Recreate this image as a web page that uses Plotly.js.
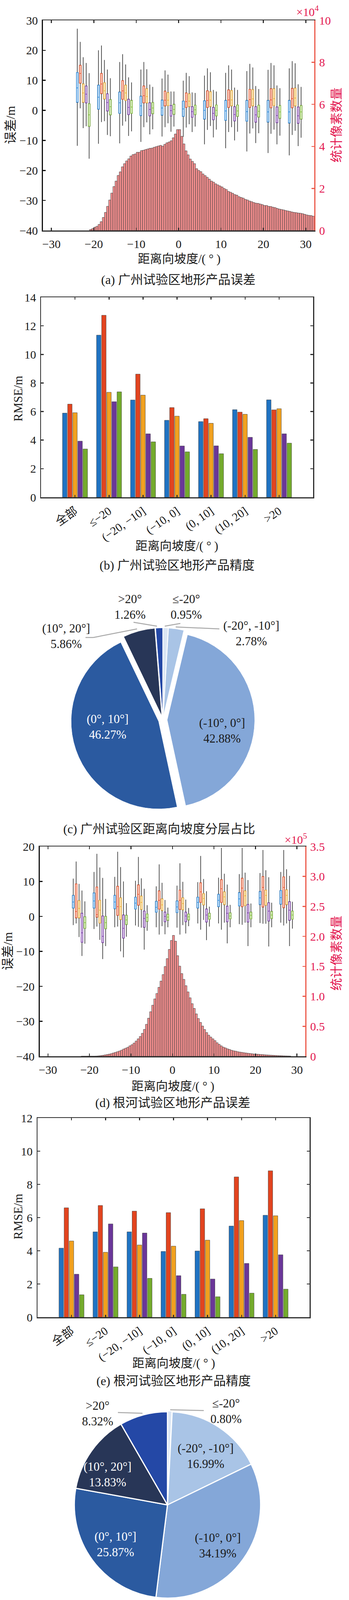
<!DOCTYPE html>
<html>
<head>
<meta charset="utf-8">
<script src="https://cdn.plot.ly/plotly-3.0.1.min.js"></script>
<style>
  html, body { margin: 0; padding: 0; background: #fff; }
  #fig { width: 894px; height: 4238px; }
</style>
</head>
<body>
<div id="fig"></div>
<script>
// ---- data ----
// box groups: centres of the 5 degree range-slope bins
const slopeBins = [-22.5, -17.5, -12.5, -7.5, -2.5, 2.5, 7.5, 12.5, 17.5, 22.5, 27.5];

// Guangzhou error boxes, rows = [lower whisker, q1, median, q3, upper whisker]
const gzBoxSRTM = [[-11.8,2.7,7.5,12.6,27.2],[-11.1,0.4,4.4,8.4,20.0],[-11.0,-1.0,2.5,6.1,16.1],[-10.5,-1.7,1.5,4.7,13.6],[-8.7,-1.6,0.8,3.4,10.6],[-8.8,-2.0,0.5,3.1,9.9],[-11.3,-2.9,0.0,3.2,11.6],[-12.6,-3.3,-0.2,3.3,12.5],[-13.7,-3.6,-0.4,3.3,13.1],[-14.2,-3.9,-0.5,3.3,13.5],[-15.0,-4.2,-0.5,3.3,14.0]];
const gzBoxCOP = [[0.7,9.1,12.3,15.0,22.8],[-3.9,5.6,8.8,12.3,21.6],[-5.1,3.7,6.5,9.9,18.7],[-5.6,2.5,4.9,8.1,16.1],[-5.6,1.5,3.4,6.4,13.3],[-5.7,1.0,2.9,5.8,12.5],[-6.5,1.0,3.3,6.5,14.0],[-7.2,1.0,3.5,6.8,15.0],[-7.7,1.0,3.6,7.0,15.5],[-7.8,0.9,3.5,7.2,15.8],[-8.2,0.9,3.9,7.3,16.4]];
const gzBoxLT1 = [[-5.9,2.7,5.8,8.8,17.7],[-3.6,3.8,6.5,9.2,16.8],[-3.7,3.3,5.8,8.4,15.3],[-4.0,2.5,4.6,7.2,13.7],[-4.3,1.6,3.4,5.9,11.9],[-4.6,1.3,3.1,5.5,11.4],[-5.2,1.3,3.4,6.2,12.7],[-5.6,1.5,3.5,6.6,13.6],[-6.0,1.5,3.8,6.9,14.3],[-6.4,1.6,3.9,7.2,15.0],[-6.8,1.5,4.1,7.4,15.7]];
const gzBoxFAB = [[-5.3,2.5,5.4,8.1,15.8],[-8.2,-0.2,2.6,5.5,13.6],[-8.5,-1.4,1.0,3.7,11.0],[-8.0,-1.8,0.3,2.5,8.6],[-7.1,-1.9,-0.1,1.6,6.3],[-7.2,-2.3,-0.4,1.2,6.0],[-9.0,-3.1,-1.0,1.0,6.8],[-10.0,-3.5,-1.4,1.2,7.6],[-10.9,-3.9,-1.5,1.2,8.1],[-11.3,-4.1,-1.7,1.1,8.3],[-11.9,-4.3,-1.8,1.1,8.7]];
const gzBoxOurs = [[-16.1,-5.3,-1.5,2.2,12.4],[-8.6,-1.5,1.2,3.6,10.7],[-7.0,-1.0,1.1,3.3,9.3],[-6.3,-1.1,0.8,2.6,7.8],[-5.4,-1.3,0.3,2.0,6.3],[-5.4,-1.4,0.2,1.7,5.8],[-6.4,-1.8,0.0,1.8,6.3],[-7.1,-2.0,-0.2,1.8,6.8],[-7.6,-2.2,-0.3,1.7,7.1],[-8.4,-2.6,-0.5,1.6,7.4],[-9.1,-2.9,-0.5,1.6,7.8]];

// Genhe error boxes
const ghBoxSRTM = [[-2.5,2.4,4.1,6.0,10.8],[-3.6,2.4,4.4,6.7,12.7],[-3.1,2.2,4.1,6.0,11.3],[-2.6,2.1,3.8,5.5,10.2],[-3.1,1.2,2.6,4.3,8.6],[-3.2,1.1,2.7,4.4,8.8],[-2.0,2.4,4.0,5.5,9.8],[-2.0,2.8,4.6,6.3,11.1],[-2.2,3.0,5.0,6.8,12.1],[-1.9,3.4,5.3,7.1,12.4],[-1.8,3.5,5.4,7.4,12.7]];
const ghBoxCOP = [[-2.0,-0.4,1.4,9.3,15.7],[-2.9,-0.2,0.5,8.4,17.9],[-2.9,0.3,2.8,8.6,18.5],[-3.0,3.2,6.3,9.0,17.0],[-5.2,2.1,4.6,7.3,14.9],[-5.2,2.0,4.6,7.5,15.2],[-3.8,4.0,7.0,9.6,17.3],[-3.8,4.0,7.9,10.5,19.6],[-2.4,2.8,8.1,10.9,19.6],[-2.1,2.7,8.3,11.4,19.0],[-2.6,2.5,8.3,11.3,19.0]];
const ghBoxLT1 = [[-5.9,-0.4,2.3,4.5,9.3],[-6.7,-1.9,1.8,4.6,14.0],[-10.0,-0.9,2.8,5.3,14.1],[-3.2,2.0,4.0,5.8,10.9],[-2.8,1.7,3.3,5.0,9.6],[-2.5,1.9,3.7,5.3,9.9],[-1.0,3.3,5.1,6.5,10.7],[-1.8,3.4,5.6,7.0,12.2],[-1.8,3.1,5.9,7.3,12.5],[-2.1,3.2,6.0,7.5,13.2],[-2.0,3.4,6.0,7.6,13.5]];
const ghBoxFAB = [[-11.3,-7.4,-4.7,0.9,7.4],[-12.2,-7.5,-5.7,0.1,11.0],[-11.7,-6.2,-3.4,0.4,10.0],[-9.5,-3.1,-0.6,1.5,7.9],[-5.1,-1.5,0.0,1.2,4.7],[-4.9,-1.5,0.1,1.2,4.8],[-6.8,-1.6,0.4,2.1,7.2],[-7.7,-1.5,0.9,2.9,9.1],[-8.5,-1.6,1.0,3.4,10.4],[-8.6,-1.3,1.5,3.9,11.2],[-8.5,-1.1,1.8,4.2,11.6]];
const ghBoxOurs = [[-7.8,-3.4,-1.8,-0.1,4.3],[-8.5,-3.5,-1.8,0.0,5.0],[-5.8,-2.3,-1.0,0.3,3.8],[-4.1,-1.4,-0.3,0.7,3.2],[-3.1,-1.1,-0.2,0.6,2.5],[-2.8,-1.0,-0.1,0.7,2.4],[-2.9,-0.8,0.0,0.9,2.8],[-3.1,-0.7,0.1,1.0,3.3],[-3.1,-0.7,0.3,1.2,3.7],[-3.1,-0.6,0.4,1.4,3.9],[-3.5,-0.8,0.4,1.5,4.2]];

// pixel count histograms, 0.5 degree bins
const binW = 0.5;
const gzHistStart = -21;   // x1e4
const gzHist = [0.05,0.09,0.155,0.2,0.29,0.42,0.62,0.86,1.15,1.45,1.78,2.09,2.35,2.62,2.79,3.03,3.18,3.31,3.41,3.54,3.61,3.64,3.72,3.72,3.80,3.82,3.85,3.88,3.91,3.92,3.96,3.99,4.02,4.05,4.01,4.10,4.17,4.21,4.27,4.41,4.59,
  4.80,4.80,
  4.48,4.12,3.79,3.60,3.40,3.29,3.18,2.94,2.86,2.80,2.69,2.61,2.53,2.44,2.35,2.30,2.22,2.17,2.12,2.07,2.00,1.95,1.86,1.82,1.77,1.71,1.68,1.61,1.57,1.54,1.48,1.45,1.40,1.37,1.33,1.30,1.29,1.26,1.23,1.19,1.19,1.15,1.14,1.11,1.09,1.05,1.02,1.00,0.98,0.95,0.93,0.91,0.88,0.86,0.85,0.83,0.82,0.80,0.77,0.74,0.72,0.71,0.68];
const ghHistStart = -22;   // x1e5
const ghHist = [0.001,0.001,0.001,0.002,0.002,0.002,0.002,0.004,0.007,0.011,0.015,0.022,0.028,0.035,0.043,0.054,0.065,0.076,0.087,0.102,0.12,0.135,0.15,0.174,0.193,0.22,0.254,0.291,0.33,0.383,0.448,0.533,0.635,0.743,0.852,0.957,1.048,1.15,1.254,1.363,1.498,1.63,1.783,1.933,
  2.017,1.92,1.678,1.504,1.38,1.283,1.178,1.074,0.976,0.878,0.798,0.707,0.63,0.565,0.504,0.446,0.396,0.352,0.32,0.291,0.261,0.226,0.2,0.174,0.152,0.139,0.124,0.113,0.1,0.091,0.085,0.076,0.07,0.065,0.059,0.054,0.05,0.046,0.041,0.037,0.035,0.033,0.03,0.028,0.025,0.022,0.02,0.018,0.016,0.014,0.012,0.01,0.009,0.007,0.006,0.005,0.004];

// RMSE per slope class
const rangeCats = ['全部', '≤−20', '(−20, −10]', '(−10, 0]', '(0, 10]', '(10, 20]', '>20'];
const gzSRTM = [5.89, 11.35, 6.81, 5.39, 5.30, 6.13, 6.82];
const gzCOP  = [6.52, 12.74, 8.62, 6.28, 5.50, 5.96, 6.12];
const gzLT1  = [5.92, 7.35, 7.15, 5.68, 5.18, 5.81, 6.20];
const gzFAB  = [3.93, 6.69, 4.44, 3.59, 3.60, 4.20, 4.44];
const gzOurs = [3.38, 7.38, 3.88, 3.18, 3.05, 3.35, 3.79];
const ghSRTM = [4.16, 5.14, 5.14, 3.96, 3.99, 5.49, 6.14];
const ghCOP  = [6.59, 6.73, 6.39, 6.30, 6.53, 8.45, 8.82];
const ghLT1  = [4.59, 3.91, 4.35, 4.28, 4.64, 5.82, 6.11];
const ghFAB  = [2.59, 5.62, 5.07, 2.50, 2.30, 3.24, 3.76];
const ghOurs = [1.35, 3.03, 2.34, 1.38, 1.23, 1.45, 1.69];

// share of slope classes (%)
const sliceLabels = ['≤-20°', '(-20°, -10°]', '(-10°, 0°]', '(0°, 10°]', '(10°, 20°]', '>20°'];
const gzShare = [0.95, 2.78, 42.88, 46.27, 5.86, 1.26];
const ghShare = [0.80, 16.99, 34.19, 25.87, 13.83, 8.32];

// ---- styling ----
const W = 894, H = 4238;
const px = v => v / W;
const py = v => 1 - v / H;
const FONT = '"Liberation Serif", "Noto Sans CJK SC", serif';
const RED_AX = '#ec5a4b', RED_TXT = '#e3174f';
const FRAME = '#2e2e2e';

const series = [
  {name: 'SRTM DEM',            bar: '#1f73c3', box: '#2a8be0', fill: '#d9eaf9', rank: 1, lg: 'legend'},
  {name: 'COP DEM',             bar: '#e2441f', box: '#ee5329', fill: '#fcddd2', rank: 2, lg: 'legend'},
  {name: 'LT-1 DEM(传统方法)',   bar: '#f1a11f', box: '#f3b030', fill: '#fdefd3', rank: 4, lg: 'legend'},
  {name: 'FAB DEM',             bar: '#6a3699', box: '#7d3fae', fill: '#e8dbf1', rank: 3, lg: 'legend'},
  {name: 'LT-1林下地形(本文方法)', bar: '#74ab2c', box: '#84c03a', fill: '#e6f2d6', rank: 5, lg: 'legend2'}
];
const sliceColors = ['#dbe6f4', '#a9c4e6', '#84a7d8', '#2b5aa0', '#283657', '#2448a6'];
const boxOffsets = [-1.4, -0.7, 0, 0.7, 1.4];

// grey whiskers underneath, coloured box on top
function boxTraces(rows, k, xa, ya) {
  const s = series[k];
  const pos = slopeBins.map(c => c + boxOffsets[k]);
  const col = i => rows.map(r => r[i]);
  const common = {type: 'box', x: pos, q1: col(1), median: col(2), q3: col(3),
    width: 0.4, boxpoints: false, hoverinfo: 'skip', showlegend: false, xaxis: xa, yaxis: ya};
  return [
    Object.assign({}, common, {lowerfence: col(0), upperfence: col(4), whiskerwidth: 0,
      line: {color: '#3a3a3a', width: 1.7}, fillcolor: 'rgba(0,0,0,0)'}),
    Object.assign({}, common, {lowerfence: col(1), upperfence: col(3), whiskerwidth: 0,
      line: {color: s.box, width: 1.5}, fillcolor: s.fill})
  ];
}

function histTrace(counts, start, xa, ya) {
  return {type: 'bar', x: counts.map((_, i) => start + (i + 0.5) * binW), y: counts, width: binW,
    marker: {color: '#f08c8c', line: {color: '#3c3c3c', width: 0.9}},
    xaxis: xa, yaxis: ya, hoverinfo: 'skip', showlegend: false};
}

function barTraces(vals, xa, ya, legend) {
  return vals.map((v, k) => ({type: 'bar', x: rangeCats, y: v, name: series[k].name,
    marker: {color: series[k].bar, line: {color: '#3a3a3a', width: 0.8}},
    xaxis: xa, yaxis: ya, showlegend: legend, legend: series[k].lg, legendrank: series[k].rank, hoverinfo: 'skip'}));
}

function pieTrace(share, x0, x1, y0, y1, pull, lineW) {
  return {type: 'pie', values: share, labels: sliceLabels, sort: false, direction: 'clockwise', rotation: 0,
    domain: {x: [px(x0), px(x1)], y: [py(y1), py(y0)]},
    marker: {colors: sliceColors, line: {color: '#ffffff', width: lineW}},
    pull: pull, textinfo: 'none', hoverinfo: 'skip', showlegend: false};
}

const data = [
  histTrace(gzHist, gzHistStart, 'x', 'y'),
  ...[0, 1, 2, 3, 4].flatMap(k => boxTraces([gzBoxSRTM, gzBoxCOP, gzBoxLT1, gzBoxFAB, gzBoxOurs][k], k, 'x', 'y2')),
  ...barTraces([gzSRTM, gzCOP, gzLT1, gzFAB, gzOurs], 'x2', 'y3', true),
  pieTrace(gzShare, 181.5, 652.5, 1607.5, 2078.5, [0.05, 0.05, 0.05, 0.05, 0.05, 0.05], 1),
  histTrace(ghHist, ghHistStart, 'x3', 'y4'),
  ...[0, 1, 2, 3, 4].flatMap(k => boxTraces([ghBoxSRTM, ghBoxCOP, ghBoxLT1, ghBoxFAB, ghBoxOurs][k], k, 'x3', 'y5')),
  ...barTraces([ghSRTM, ghCOP, ghLT1, ghFAB, ghOurs], 'x4', 'y6', false),
  pieTrace(ghShare, 188, 670, 3611, 4094, [0.01, 0, 0, 0, 0, 0], 3)
];

const tickFont = {family: FONT, size: 30, color: '#1a1a1a'};
const redFont = {family: FONT, size: 30, color: RED_TXT};

function slopeX(x0, x1, anchor) {
  return {domain: [px(x0), px(x1)], anchor: anchor, range: [-32, 32],
    tickvals: [-30, -20, -10, 0, 10, 20, 30], ticks: 'inside', ticklen: 7, tickwidth: 2.5, tickcolor: FRAME,
    showline: true, linecolor: FRAME, linewidth: 2.5, mirror: 'ticks', showgrid: false, zeroline: false,
    tickfont: tickFont, ticklabelstandoff: 6};
}
function leftY(range, dtick, overlay, anchor) {
  return {overlaying: overlay, side: 'left', anchor: anchor, range: range, dtick: dtick,
    ticks: 'inside', ticklen: 7, tickwidth: 2.5, tickcolor: '#111',
    showline: true, linecolor: '#111', linewidth: 3, showgrid: false, zeroline: false,
    tickfont: tickFont, ticklabelstandoff: 4};
}
function countY(y0, y1, range, tickvals, ticktext, anchor) {
  return {domain: [py(y1), py(y0)], anchor: anchor, side: 'right', range: range,
    tickvals: tickvals, ticktext: ticktext, ticks: 'inside', ticklen: 7, tickwidth: 2.5, tickcolor: RED_AX,
    showline: true, linecolor: RED_AX, linewidth: 2.5, showgrid: false, zeroline: false,
    tickfont: redFont, ticklabelstandoff: 4};
}
function catX(x0, x1, anchor) {
  return {domain: [px(x0), px(x1)], anchor: anchor, type: 'category', range: [-1, 7],
    ticks: 'inside', ticklen: 6, tickwidth: 2.5, tickcolor: FRAME, tickangle: -35,
    showline: true, linecolor: FRAME, linewidth: 2.5, mirror: 'ticks', showgrid: false,
    tickfont: tickFont, ticklabelstandoff: 4};
}
function rmseY(y0, y1, range, anchor) {
  return {domain: [py(y1), py(y0)], anchor: anchor, range: range, dtick: 2,
    ticks: 'inside', ticklen: 7, tickwidth: 2.5, tickcolor: FRAME,
    showline: true, linecolor: FRAME, linewidth: 2.5, mirror: 'ticks', showgrid: false, zeroline: false,
    tickfont: tickFont, ticklabelstandoff: 4};
}

function note(text, x, y, opt) {
  opt = opt || {};
  return {text: text, xref: 'paper', yref: 'paper', x: px(x), y: py(y), showarrow: false,
    xanchor: opt.xanchor || 'center', yanchor: 'middle', textangle: opt.angle || 0,
    font: {family: FONT, size: opt.size || 31, color: opt.color || '#1a1a1a'}};
}
function leader(pts) {
  return pts.slice(1).map((p, i) => ({type: 'line', xref: 'paper', yref: 'paper',
    x0: px(pts[i][0]), y0: py(pts[i][1]), x1: px(p[0]), y1: py(p[1]),
    line: {color: '#a8a8a8', width: 2.5}}));
}
const sliceNote = (share, i) => sliceLabels[i] + '<br>' + share[i].toFixed(2) + '%';
const slopeTitle = '距离向坡度/( ° )';
const WHITE = {color: '#ffffff'};

const annotations = [
  note('误差/m', 27, 320, {angle: -90, size: 32}),
  note('统计像素数量', 862, 320, {angle: -90, size: 32, color: RED_TXT}),
  note('×10<sup>4</sup>', 788, 28, {size: 30, color: RED_TXT}),
  note(slopeTitle, 459, 663),
  note('(a) 广州试验区地形产品误差', 457, 716, {size: 32}),
  note('RMSE/m', 46, 1021, {angle: -90, size: 31}),
  note(slopeTitle, 453, 1398),
  note('(b) 广州试验区地形产品精度', 453, 1447, {size: 32}),
  note(sliceNote(gzShare, 5), 333, 1553),
  note(sliceNote(gzShare, 0), 477, 1553),
  note(sliceNote(gzShare, 1), 644, 1621),
  note(sliceNote(gzShare, 4), 169, 1628),
  note(sliceNote(gzShare, 3), 275, 1860, WHITE),
  note(sliceNote(gzShare, 2), 569, 1871),
  note('(c) 广州试验区距离向坡度分层占比', 408, 2122, {size: 32}),
  note('误差/m', 20, 2435, {angle: -90, size: 32}),
  note('统计像素数量', 862, 2440, {angle: -90, size: 32, color: RED_TXT}),
  note('×10<sup>5</sup>', 757, 2147, {size: 30, color: RED_TXT}),
  note(slopeTitle, 443, 2780),
  note('(d) 根河试验区地形产品误差', 442, 2823, {size: 32}),
  note('RMSE/m', 46, 3115, {angle: -90, size: 31}),
  note(slopeTitle, 445, 3489),
  note('(e) 根河试验区地形产品精度', 445, 3535, {size: 32}),
  note(sliceNote(ghShare, 5), 250, 3618),
  note(sliceNote(ghShare, 0), 579, 3612),
  note(sliceNote(ghShare, 1), 527, 3727),
  note(sliceNote(ghShare, 2), 558, 3956),
  note(sliceNote(ghShare, 3), 295, 3953, WHITE),
  note(sliceNote(ghShare, 4), 275, 3774, WHITE),
  note('(f) 根河试验区距离向坡度分层占比', 429, 4130, {size: 32})
];

const shapes = [
  ...leader([[342, 1593], [402, 1603]]),
  ...leader([[462, 1596], [422, 1603]]),
  ...leader([[562, 1610], [450, 1605]]),
  ...leader([[219, 1632], [239, 1632], [351, 1610]]),
  ...leader([[302, 3616], [365, 3618]]),
  ...leader([[436, 3609], [522, 3611]])
];

const legendFont = {family: FONT, size: 25, color: '#1a1a1a'};
const layout = {
  width: W, height: H, margin: {l: 0, r: 0, t: 0, b: 0, autoexpand: false},
  paper_bgcolor: '#ffffff', plot_bgcolor: 'rgba(0,0,0,0)',
  font: {family: FONT, color: '#1a1a1a'},
  barmode: 'group', bargap: 0.245, bargroupgap: 0.13, boxmode: 'overlay',
  xaxis: slopeX(110, 805, 'y'),
  yaxis: countY(52, 590, [0, 10], [0, 2, 4, 6, 8, 10], ['0', '2', '4', '6', '8', '10'], 'x'),
  yaxis2: leftY([-40, 30], 10, 'y', 'x'),
  xaxis2: catX(105, 802, 'y3'),
  yaxis3: rmseY(761, 1273, [0, 14], 'x2'),
  xaxis3: slopeX(101.5, 782, 'y4'),
  yaxis4: countY(2167, 2704, [0, 3.5], [0, 0.5, 1, 1.5, 2, 2.5, 3, 3.5], ['0', '0.5', '1.0', '1.5', '2.0', '2.5', '3.0', '3.5'], 'x3'),
  yaxis5: leftY([-40, 20], 10, 'y4', 'x3'),
  xaxis4: catX(96, 793, 'y6'),
  yaxis6: rmseY(2862, 3372, [0, 12], 'x4'),
  showlegend: true,
  legend: {orientation: 'h', x: px(56), y: py(4178), xanchor: 'left', yanchor: 'middle',
    entrywidth: 132, entrywidthmode: 'pixels', traceorder: 'normal',
    font: legendFont, bgcolor: 'rgba(0,0,0,0)'},
  legend2: {orientation: 'h', x: px(56), y: py(4214), xanchor: 'left', yanchor: 'middle',
    font: legendFont, bgcolor: 'rgba(0,0,0,0)'},
  annotations: annotations,
  shapes: shapes
};

Plotly.newPlot('fig', data, layout, {staticPlot: true});
</script>
</body>
</html>
